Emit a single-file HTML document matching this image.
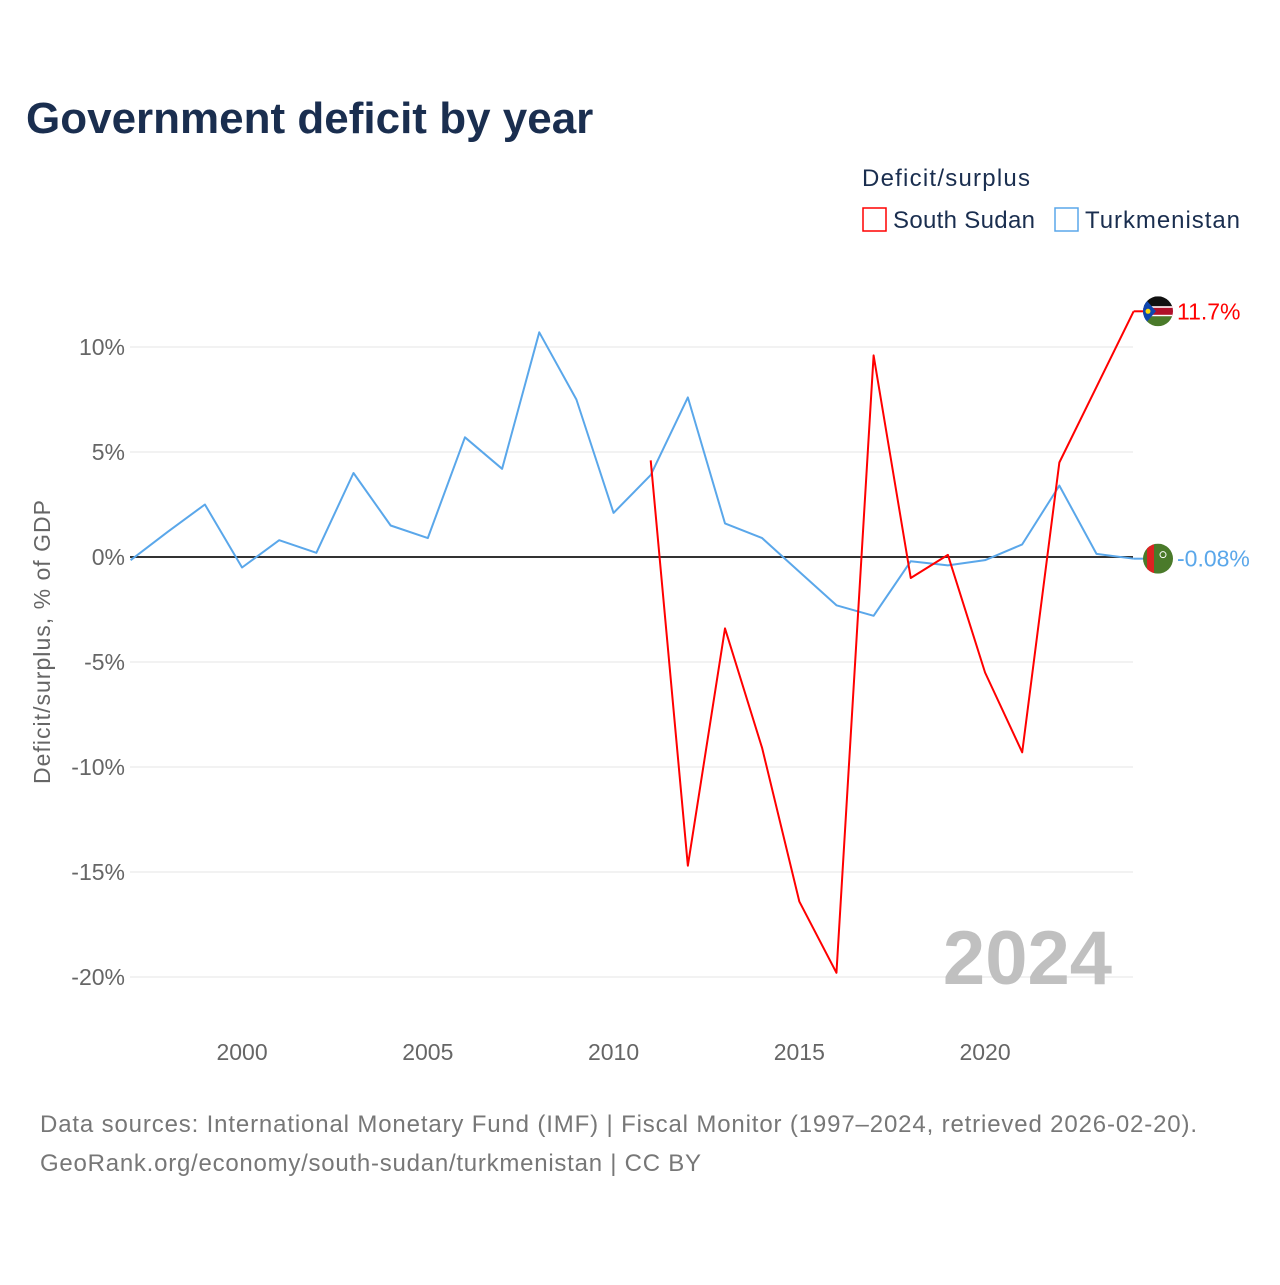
<!DOCTYPE html>
<html><head><meta charset="utf-8"><style>
body{margin:0;background:#fff;font-family:"Liberation Sans",sans-serif;}
svg text{font-family:"Liberation Sans",sans-serif;}
</style></head><body>
<svg id="chart" width="1280" height="1280" xmlns="http://www.w3.org/2000/svg">
<text x="26" y="133" font-size="44" font-weight="bold" fill="#1a2e4f">Government deficit by year</text>
<text x="862" y="186" font-size="24" fill="#1a2e4f" textLength="168">Deficit/surplus</text>
<g><rect x="863" y="208" width="23" height="23" fill="none" stroke="#f00" stroke-width="1.5"/><text x="893" y="228" font-size="24" fill="#1a2e4f" textLength="142">South Sudan</text></g>
<g><rect x="1055" y="208" width="23" height="23" fill="none" stroke="#5aa7ea" stroke-width="1.5"/><text x="1085" y="228" font-size="24" fill="#1a2e4f" textLength="155">Turkmenistan</text></g>
<text transform="translate(50,642) rotate(-90)" text-anchor="middle" font-size="23" fill="#666" textLength="284">Deficit/surplus, % of GDP</text>
<g id="grid"></g><g id="series"></g>
<text x="1112" y="984" text-anchor="end" font-size="76" font-weight="bold" fill="#c0c0c0">2024</text>
<text x="40" y="1132" font-size="24" fill="#777" textLength="1157">Data sources: International Monetary Fund (IMF) | Fiscal Monitor (1997–2024, retrieved 2026-02-20).</text>
<text x="40" y="1171" font-size="24" fill="#777" textLength="661">GeoRank.org/economy/south-sudan/turkmenistan | CC BY</text>
</svg>
<script>
const yTicks=[10,5,0,-5,-10,-15,-20];
const xTicks=[2000,2005,2010,2015,2020];
const tkmYears=[1997,1998,1999,2000,2001,2002,2003,2004,2005,2006,2007,2008,2009,2010,2011,2012,2013,2014,2015,2016,2017,2018,2019,2020,2021,2022,2023,2024];
const tkmValues=[-0.15,1.2,2.5,-0.5,0.8,0.2,4.0,1.5,0.9,5.7,4.2,10.7,7.5,2.1,3.9,7.6,1.6,0.9,-0.7,-2.3,-2.8,-0.2,-0.4,-0.15,0.6,3.4,0.15,-0.08];
const ssdYears=[2011,2012,2013,2014,2015,2016,2017,2018,2019,2020,2021,2022,2023,2024];
const ssdValues=[4.6,-14.7,-3.4,-9.1,-16.4,-19.8,9.6,-1.0,0.1,-5.5,-9.3,4.5,8.1,11.7];
const NS="http://www.w3.org/2000/svg";
const xs=y=>130.6+(y-1997)*37.15;
const ys=v=>557-v*21;
const grid=document.getElementById('grid'),ser=document.getElementById('series');
function mk(tag,attrs,parent){const e=document.createElementNS(NS,tag);for(const k in attrs)e.setAttribute(k,attrs[k]);parent.appendChild(e);return e;}
yTicks.forEach(t=>{
 const l=mk('line',{x1:130,x2:1133,y1:ys(t),y2:ys(t),stroke:t===0?'#333':'#e6e6e6','stroke-width':t===0?2:1},grid);
 
 
 const tx=mk('text',{x:125,y:ys(t)+8,'text-anchor':'end','font-size':23,fill:'#666'},grid);
 tx.textContent=t+'%';
 
 
});
xTicks.forEach(t=>{
 const tx=mk('text',{x:xs(t),y:1060,'text-anchor':'middle','font-size':23,fill:'#666'},grid);
 tx.textContent=t;
 
 
});
function line(years,vals,col,name){
 const p=mk('polyline',{points:years.map((y,i)=>xs(y)+','+ys(vals[i])).join(' '),fill:'none',stroke:col,'stroke-width':2,'stroke-linejoin':'round'},ser);
 
 
}
line(tkmYears,tkmValues,'#5aa7ea','turkmenistan-line');
line(ssdYears,ssdValues,'#f00','south-sudan-line');
function endLabel(vals,col,name,txt,flag){
 const v=vals[vals.length-1],y=ys(v),x=xs(2024);
 mk('line',{x1:x,x2:x+12,y1:y,y2:y,stroke:col,'stroke-width':2},ser);
 const g=mk('g',{},ser);
 
 
 mk('clipPath',{id:'c'+name},g).appendChild(document.createElementNS(NS,'circle')).setAttribute('r',15);
 document.querySelector('#c'+name+' circle').setAttribute('cx',1158);
 document.querySelector('#c'+name+' circle').setAttribute('cy',y);
 const cg=mk('g',{'clip-path':'url(#c'+name+')'},g);
 flag(cg,y);
 const t=mk('text',{x:1177,y:y+8,'font-size':23,fill:col},ser);
 t.textContent=txt;
 
 
}
endLabel(ssdValues,'#f00','south-sudan','11.7%',(g,y)=>{
 mk('rect',{x:1143,y:y-15,width:30,height:10,fill:'#111'},g);
 mk('rect',{x:1143,y:y-5,width:30,height:10,fill:'#b0102a'},g);
 mk('rect',{x:1143,y:y-5,width:30,height:1.5,fill:'#fff'},g);
 mk('rect',{x:1143,y:y+3.5,width:30,height:1.5,fill:'#fff'},g);
 mk('rect',{x:1143,y:y+5,width:30,height:10,fill:'#4a7a2a'},g);
 mk('polygon',{points:`1143,${y-15} 1156,${y} 1143,${y+15}`,fill:'#0f47af'},g);
 mk('circle',{cx:1148,cy:y,r:2.5,fill:'#fcdd09'},g);
});
endLabel(tkmValues,'#5aa7ea','turkmenistan','-0.08%',(g,y)=>{
 mk('rect',{x:1143,y:y-15,width:30,height:30,fill:'#4a7a2a'},g);
 mk('rect',{x:1147,y:y-15,width:7,height:30,fill:'#d22'},g);
 mk('circle',{cx:1163,cy:y-4,r:3,fill:'none',stroke:'#fff','stroke-width':1},g);
});
</script>
</body></html>
